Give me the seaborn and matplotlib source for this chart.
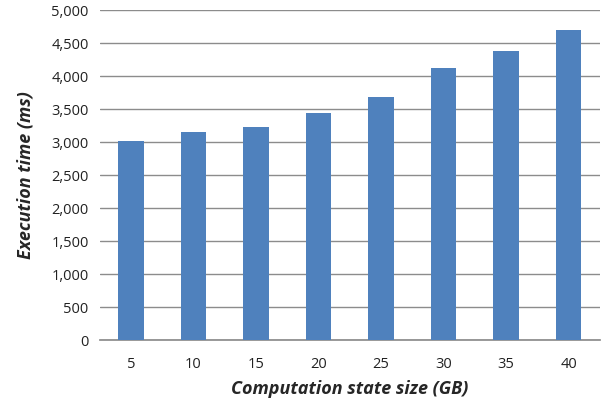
import pandas as pd
import matplotlib
matplotlib.use('Agg')
import matplotlib.pyplot as plt
import seaborn as sns
from matplotlib.ticker import FuncFormatter

# values
sizes = ['5', '10', '15', '20', '25', '30', '35', '40']
times = [3015, 3147, 3227, 3435, 3677, 4117, 4383, 4697]

df = pd.DataFrame({'size': sizes, 'time': times})

sns.set_theme(style='white')
plt.rcParams['font.family'] = ['Open Sans', 'DejaVu Sans']

fig, ax = plt.subplots(figsize=(6.12, 4.05), dpi=100)
fig.subplots_adjust(left=0.163, right=0.98, top=0.975, bottom=0.16)

sns.barplot(data=df, x='size', y='time', color='#4F81BD', saturation=1,
            width=0.41, linewidth=0, ax=ax, zorder=3)

ax.set_ylim(0, 5000)
ax.set_yticks(range(0, 5001, 500))
ax.yaxis.set_major_formatter(FuncFormatter(lambda v, p: f'{int(v):,}'))
ax.grid(axis='y', color='#8c8c8c', linewidth=1, zorder=0)
ax.set_axisbelow(True)

for s in ['top', 'right', 'left']:
    ax.spines[s].set_visible(False)
ax.spines['bottom'].set_color('#8c8c8c')
ax.tick_params(axis='both', length=0, labelsize=10.5, colors='#222222', pad=8)
ax.tick_params(axis='x', pad=12)

ax.set_xlabel('Computation state size (GB)', fontsize=13, fontweight='bold',
              style='italic', labelpad=6)
ax.set_ylabel('Execution time (ms)', fontsize=13, fontweight='bold',
              style='italic', labelpad=12)

plt.savefig('out.png', dpi=100)
